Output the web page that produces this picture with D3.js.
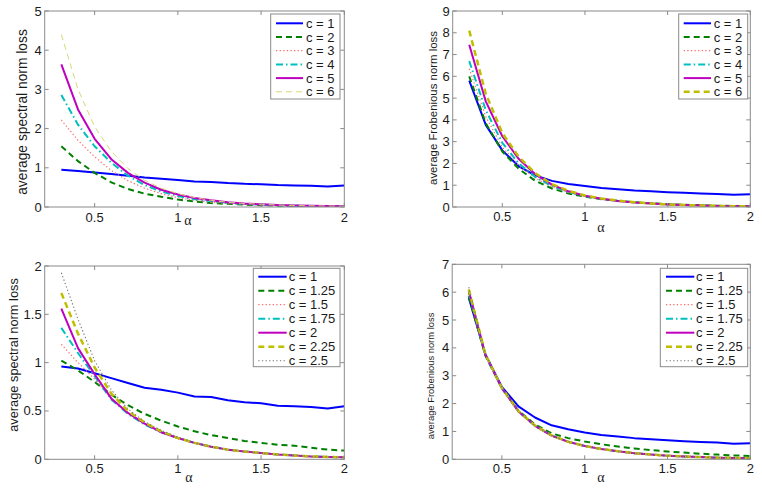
<!DOCTYPE html>
<html><head><meta charset="utf-8">
<script src="https://cdn.jsdelivr.net/npm/d3@7"></script>
<style>body{margin:0;background:#fff} svg{display:block}</style>
</head><body>
<svg id="c" width="762" height="492"></svg>
<script>
// ---------- data ----------
const alpha = [0.3,0.4,0.5,0.6,0.7,0.8,0.9,1.0,1.1,1.2,1.3,1.4,1.5,1.6,1.7,1.8,1.9,2.0];
const xTicks = [0.5,1,1.5,2];

// Panel A: spectral loss, c = 1..6
const labelsA = ["c = 1","c = 2","c = 3","c = 4","c = 5","c = 6"];
const specA_c1 = [0.95,0.92,0.88,0.84,0.80,0.75,0.72,0.69,0.65,0.64,0.61,0.59,0.58,0.56,0.55,0.54,0.52,0.55];
const specA_c2 = [1.55,1.17,0.87,0.63,0.46,0.34,0.26,0.19,0.14,0.10,0.08,0.06,0.045,0.035,0.03,0.025,0.02,0.015];
const specA_c3 = [2.22,1.70,1.28,0.93,0.67,0.48,0.34,0.24,0.17,0.12,0.09,0.07,0.05,0.04,0.03,0.025,0.02,0.015];
const specA_c4 = [2.86,2.10,1.55,1.13,0.80,0.56,0.40,0.28,0.20,0.15,0.11,0.08,0.06,0.045,0.035,0.028,0.022,0.018];
const specA_c5 = [3.64,2.49,1.74,1.22,0.87,0.62,0.44,0.32,0.23,0.17,0.12,0.09,0.07,0.05,0.04,0.03,0.025,0.02];
const specA_c6 = [4.40,3.00,2.05,1.42,0.98,0.68,0.48,0.34,0.24,0.17,0.12,0.09,0.07,0.05,0.04,0.03,0.025,0.02];
const yTicksA = [0,1,2,3,4,5];

// Panel B: Frobenius loss, c = 1..6
const frobB_c1 = [5.80,3.77,2.60,1.87,1.45,1.20,1.06,0.96,0.87,0.82,0.76,0.72,0.68,0.65,0.62,0.60,0.56,0.58];
const frobB_c2 = [6.00,3.85,2.55,1.75,1.20,0.85,0.62,0.47,0.36,0.28,0.22,0.17,0.13,0.10,0.08,0.06,0.05,0.04];
const frobB_c3 = [6.35,4.15,2.75,1.90,1.32,0.93,0.67,0.50,0.37,0.28,0.21,0.16,0.12,0.09,0.07,0.05,0.04,0.03];
const frobB_c4 = [6.70,4.45,2.95,2.00,1.38,0.96,0.69,0.50,0.37,0.28,0.21,0.16,0.12,0.09,0.07,0.05,0.04,0.03];
const frobB_c5 = [7.45,4.85,3.25,2.20,1.50,1.03,0.72,0.52,0.38,0.28,0.21,0.16,0.12,0.09,0.07,0.05,0.04,0.03];
const frobB_c6 = [8.10,5.20,3.40,2.30,1.55,1.05,0.74,0.53,0.39,0.29,0.22,0.16,0.12,0.09,0.07,0.05,0.04,0.03];
const yTicksB = [0,1,2,3,4,5,6,7,8,9];

// Panel C: spectral loss, c = 1..2.5
const labelsC = ["c = 1","c = 1.25","c = 1.5","c = 1.75","c = 2","c = 2.25","c = 2.5"];
const specC_c100 = [0.96,0.94,0.89,0.84,0.79,0.74,0.72,0.69,0.65,0.645,0.61,0.59,0.58,0.555,0.55,0.54,0.525,0.55];
const specC_c125 = [1.02,0.92,0.80,0.67,0.56,0.47,0.40,0.34,0.29,0.25,0.22,0.19,0.17,0.15,0.14,0.12,0.10,0.09];
const specC_c150 = [1.19,1.00,0.83,0.63,0.48,0.37,0.29,0.22,0.17,0.13,0.10,0.08,0.065,0.05,0.04,0.03,0.025,0.02];
const specC_c175 = [1.36,1.10,0.86,0.62,0.47,0.36,0.28,0.22,0.17,0.13,0.10,0.08,0.065,0.05,0.04,0.03,0.025,0.02];
const specC_c200 = [1.56,1.15,0.88,0.63,0.48,0.37,0.28,0.22,0.17,0.13,0.10,0.08,0.065,0.05,0.04,0.03,0.025,0.02];
const specC_c225 = [1.72,1.30,0.95,0.68,0.50,0.38,0.29,0.22,0.17,0.13,0.10,0.08,0.065,0.05,0.04,0.03,0.025,0.02];
const specC_c250 = [1.93,1.45,1.02,0.72,0.52,0.39,0.30,0.23,0.17,0.13,0.10,0.08,0.065,0.05,0.04,0.03,0.025,0.02];
const yTicksC = [0,0.5,1,1.5,2];

// Panel D: Frobenius loss, c = 1..2.5
const frobD_c100 = [5.80,3.77,2.60,1.90,1.50,1.22,1.08,0.96,0.87,0.82,0.76,0.72,0.68,0.65,0.62,0.60,0.56,0.58];
const frobD_c125 = [5.85,3.72,2.55,1.75,1.25,0.93,0.76,0.64,0.54,0.46,0.39,0.33,0.28,0.24,0.20,0.17,0.14,0.12];
const frobD_c150 = [5.95,3.75,2.55,1.72,1.20,0.85,0.63,0.48,0.37,0.29,0.22,0.17,0.13,0.10,0.08,0.06,0.05,0.04];
const frobD_c175 = [6.00,3.75,2.55,1.72,1.20,0.85,0.63,0.48,0.37,0.29,0.22,0.17,0.13,0.10,0.08,0.06,0.05,0.04];
const frobD_c200 = [6.05,3.76,2.55,1.72,1.20,0.85,0.63,0.48,0.37,0.29,0.22,0.17,0.13,0.10,0.08,0.06,0.05,0.04];
const frobD_c225 = [6.10,3.78,2.56,1.73,1.21,0.86,0.63,0.48,0.37,0.29,0.22,0.17,0.13,0.10,0.08,0.06,0.05,0.04];
const frobD_c250 = [6.18,3.80,2.57,1.73,1.21,0.86,0.63,0.48,0.37,0.29,0.22,0.17,0.13,0.10,0.08,0.06,0.05,0.04];
const yTicksD = [0,1,2,3,4,5,6,7];

// ---------- styles ----------
const S = {
  blue:   {color:"#0000ff", w:2,   dash:null},
  green:  {color:"#008000", w:2,   dash:"6,4"},
  red:    {color:"#ff6a6a", w:1.2, dash:"1.3,2.3"},
  cyan:   {color:"#00bfbf", w:2,   dash:"7,3,1.5,3"},
  mag:    {color:"#bf00bf", w:2,   dash:null},
  yelThin:{color:"#d6d67a", w:1,   dash:"6,4"},
  yel:    {color:"#bfbf00", w:2.5, dash:"6,4"},
  gray:   {color:"#777777", w:1.1, dash:"1.3,2.3"}
};

const panels = [
  {box:[44.7,344.3,11,207], ydom:[0,5], yticks:yTicksA, ylabel:"average spectral norm loss", ylab:[22,112], ylabFs:13.8,
   xlab:[188,225], xtickBase:222,
   leg:{x:270.7,y:14,w:69.3,h:85,row0:23.3,step:13.7,lx0:276,lx1:303,tx:306},
   labels:labelsA,
   series:[specA_c1,specA_c2,specA_c3,specA_c4,specA_c5,specA_c6],
   styles:[S.blue,S.green,S.red,S.cyan,S.mag,S.yelThin]},
  {box:[452.7,750.3,11,207], ydom:[0,9], yticks:yTicksB, ylabel:"average Frobenious norm loss", ylab:[433,108], ylabFs:11.4,
   xlab:[601,232], xtickBase:221,
   leg:{x:678.7,y:14,w:69,h:85,row0:23.3,step:13.7,lx0:683.7,lx1:711,tx:713.7},
   labels:labelsA,
   series:[frobB_c1,frobB_c2,frobB_c3,frobB_c4,frobB_c5,frobB_c6],
   styles:[S.blue,S.green,S.red,S.cyan,S.mag,S.yel]},
  {box:[44.7,344.3,266,459.3], ydom:[0,2], yticks:yTicksC, ylabel:"average spectral norm loss", ylab:[14,355], ylabFs:12.8,
   xlab:[189,482], xtickBase:473,
   leg:{x:253.3,y:268.3,w:86.7,h:98.4,row0:276.7,step:14,lx0:258.3,lx1:286.7,tx:288.7},
   labels:labelsC,
   series:[specC_c100,specC_c125,specC_c150,specC_c175,specC_c200,specC_c225,specC_c250],
   styles:[S.blue,S.green,S.red,S.cyan,S.mag,S.yel,S.gray]},
  {box:[452.2,750.3,264.3,459.3], ydom:[0,7], yticks:yTicksD, ylabel:"average Frobenious norm loss", ylab:[431,376], ylabFs:9.4,
   xlab:[601,482], xtickBase:473,
   leg:{x:660.3,y:268.3,w:87.4,h:98.4,row0:276.7,step:14,lx0:666,lx1:694.3,tx:696},
   labels:labelsC,
   series:[frobD_c100,frobD_c125,frobD_c150,frobD_c175,frobD_c200,frobD_c225,frobD_c250],
   styles:[S.blue,S.green,S.red,S.cyan,S.mag,S.yel,S.gray]}
];

const svg = d3.select("#c");
const FONT = "'Liberation Sans', Arial, sans-serif";
const AX = "#8a8a8a";
const TXT = "#1a1a1a";

panels.forEach(p => {
  const [x0,x1,y0,y1] = p.box;
  const x = d3.scaleLinear().domain([0.2,2]).range([x0,x1]);
  const y = d3.scaleLinear().domain(p.ydom).range([y1,y0]);
  const g = svg.append("g");

  const cid = "clip" + Math.round(x0) + Math.round(y0);
  svg.append("clipPath").attr("id",cid).append("rect")
    .attr("x",x0).attr("y",y0).attr("width",x1-x0).attr("height",y1-y0);

  const line = d3.line().x((d,i)=>x(alpha[i])).y(d=>y(d));
  const lg = g.append("g").attr("clip-path",`url(#${cid})`);
  p.series.forEach((s,i) => {
    const st = p.styles[i];
    lg.append("path").datum(s).attr("d",line)
      .attr("fill","none").attr("stroke",st.color).attr("stroke-width",st.w)
      .attr("stroke-dasharray",st.dash).attr("stroke-linejoin","round");
  });

  g.append("rect").attr("x",x0).attr("y",y0).attr("width",x1-x0).attr("height",y1-y0)
    .attr("fill","none").attr("stroke",AX).attr("stroke-width",1);

  const tl = 4;
  xTicks.forEach(t => {
    const xx = x(t);
    g.append("line").attr("x1",xx).attr("x2",xx).attr("y1",y1).attr("y2",y1-tl).attr("stroke",AX);
    g.append("line").attr("x1",xx).attr("x2",xx).attr("y1",y0).attr("y2",y0+tl).attr("stroke",AX);
    g.append("text").attr("x",xx).attr("y",p.xtickBase).attr("text-anchor","middle")
      .attr("font-family",FONT).attr("font-size",13).attr("fill",TXT).text(d3.format("")(t));
  });
  p.yticks.forEach(t => {
    const yy = y(t);
    g.append("line").attr("x1",x0).attr("x2",x0+tl).attr("y1",yy).attr("y2",yy).attr("stroke",AX);
    g.append("line").attr("x1",x1).attr("x2",x1-tl).attr("y1",yy).attr("y2",yy).attr("stroke",AX);
    g.append("text").attr("x",x0-3).attr("y",yy+4.5).attr("text-anchor","end")
      .attr("font-family",FONT).attr("font-size",13).attr("fill",TXT).text(d3.format("")(t));
  });

  g.append("text").attr("x",p.xlab[0]).attr("y",p.xlab[1]).attr("text-anchor","middle")
    .attr("font-family","'Liberation Serif', 'DejaVu Serif', serif").attr("font-size",14).attr("fill",TXT).text("α");
  g.append("text").attr("transform",`translate(${p.ylab[0]},${p.ylab[1]}) rotate(-90)`)
    .attr("text-anchor","middle").attr("dy","0.35em")
    .attr("font-family",FONT).attr("font-size",p.ylabFs).attr("fill",TXT).text(p.ylabel);

  const L = p.leg;
  g.append("rect").attr("x",L.x).attr("y",L.y).attr("width",L.w).attr("height",L.h)
    .attr("fill","#fff").attr("stroke",AX).attr("stroke-width",1);
  p.labels.forEach((lab,i) => {
    const st = p.styles[i];
    const yy = L.row0 + i*L.step;
    g.append("line").attr("x1",L.lx0).attr("x2",L.lx1).attr("y1",yy).attr("y2",yy)
      .attr("stroke",st.color).attr("stroke-width",st.w).attr("stroke-dasharray",st.dash);
    g.append("text").attr("x",L.tx).attr("y",yy+4.6)
      .attr("font-family",FONT).attr("font-size",13).attr("fill",TXT).text(lab);
  });
});
</script>
</body></html>
